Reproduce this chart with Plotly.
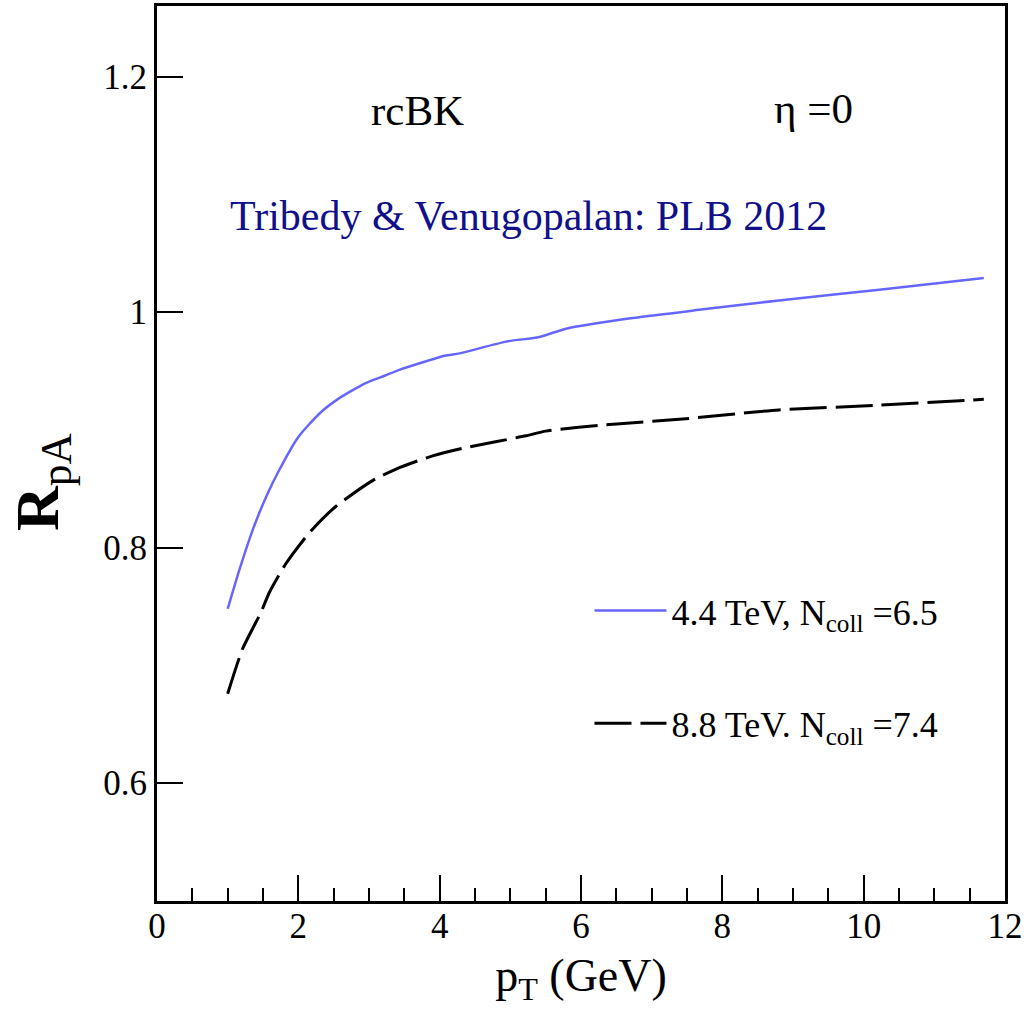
import plotly.graph_objects as go

# Data
pt_44 = [1.0, 1.17, 1.36, 1.55, 1.73, 2.0, 2.3, 2.58, 2.96, 3.22, 3.43, 4.07, 4.28,
         4.94, 5.41, 5.79, 6.73, 7.67, 8.8, 10.22, 11.7]
r_44 = [0.748, 0.782, 0.816, 0.844, 0.866, 0.894, 0.914, 0.927, 0.940, 0.946, 0.951,
        0.963, 0.965, 0.975, 0.979, 0.986, 0.995, 1.002, 1.010, 1.019, 1.029]

pt_88 = [1.0, 1.21, 1.47, 1.59, 1.83, 2.16, 2.53, 3.05, 3.43, 3.9, 4.37, 5.22, 5.5,
         6.26, 7.39, 8.8, 10.22, 11.7]
r_88 = [0.676, 0.714, 0.745, 0.762, 0.787, 0.813, 0.835, 0.857, 0.868, 0.878, 0.885,
        0.895, 0.899, 0.904, 0.909, 0.917, 0.921, 0.926]

name_44 = "4.4 TeV, N<sub>coll</sub> =6.5"
name_88 = "8.8 TeV. N<sub>coll</sub> =7.4"

FONT = "Liberation Serif"

fig = go.Figure()
fig.add_trace(go.Scatter(x=pt_44, y=r_44, mode="lines", name=name_44, legendgroup="a",
                         line=dict(color="#6666ff", width=2.5, shape="spline", smoothing=0.6)))
fig.add_trace(go.Scatter(x=pt_88, y=r_88, mode="lines", name=name_88, legendgroup="b",
                         line=dict(color="black", width=3, dash="37px,9px", shape="spline", smoothing=0.6)))

fig.update_layout(
    width=1029, height=1025,
    margin=dict(l=157, r=24, t=3, b=124),
    paper_bgcolor="white", plot_bgcolor="white",
    font=dict(family=FONT, color="black", size=35),
    showlegend=True,
    legend=dict(x=0.510, y=0.358, xanchor="left", yanchor="top",
                bgcolor="rgba(0,0,0,0)", font=dict(size=36, family=FONT),
                tracegroupgap=63, itemwidth=72),
    xaxis=dict(range=[0, 12], tickmode="linear", tick0=0, dtick=2,
               ticks="inside", ticklen=26, tickwidth=2, tickcolor="black",
               minor=dict(dtick=0.5, ticks="inside", ticklen=13, tickwidth=2, tickcolor="black"),
               showline=True, linewidth=3, linecolor="black", mirror=True,
               showgrid=False, zeroline=False, ticklabelstandoff=-8,
               tickfont=dict(size=35, family=FONT),
               title=dict(text="p<sub>T</sub> (GeV)", font=dict(size=46, family=FONT), standoff=14)),
    yaxis=dict(range=[0.5, 1.26], tickmode="linear", tick0=0.6, dtick=0.2,
               ticks="inside", ticklen=26, tickwidth=2, tickcolor="black",
               showline=True, linewidth=3, linecolor="black", mirror=True,
               showgrid=False, zeroline=False,
               tickfont=dict(size=35, family=FONT)),
    annotations=[
        dict(x=3.69, y=1.171, xref="x", yref="y", text="rcBK", showarrow=False,
             font=dict(size=43, family=FONT, color="black")),
        dict(x=9.29, y=1.173, xref="x", yref="y", text="η =0", showarrow=False,
             font=dict(size=43, family=FONT, color="black")),
        dict(x=5.26, y=1.082, xref="x", yref="y", text="Tribedy &amp; Venugopalan: PLB 2012",
             showarrow=False, font=dict(size=42, family=FONT, color="#10108a")),
        dict(x=-0.137, y=0.468, xref="paper", yref="paper", text="<b>R</b><sub>pA</sub>",
             xanchor="center", yanchor="middle",
             textangle=-90, showarrow=False, font=dict(size=62, family=FONT, color="black")),
    ],
)

fig.write_html("out.html", config={"displayModeBar": False},
               post_script="document.body.style.margin='0px';")
